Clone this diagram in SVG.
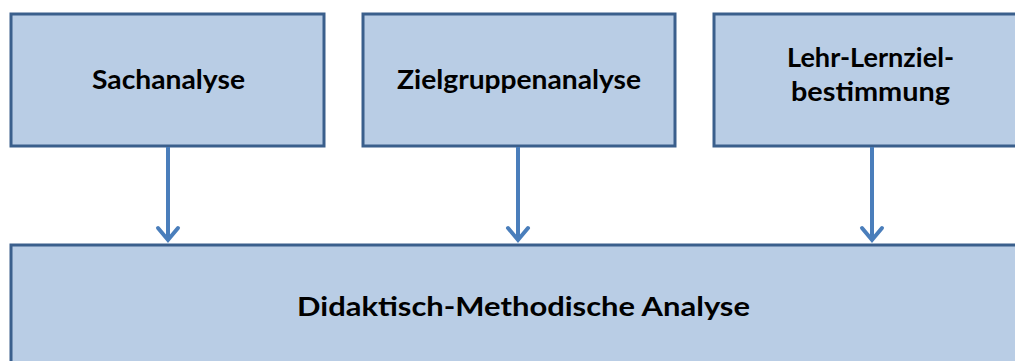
<svg xmlns="http://www.w3.org/2000/svg" width="1015" height="361" viewBox="0 0 1015 361">
<defs>
<style>
.box{fill:#B9CDE5;stroke:#3A5F8C;stroke-width:3}
.lbl{font-family:Lato,"Open Sans","Liberation Sans",sans-serif;font-weight:bold;font-size:27px;fill:#000;text-anchor:middle}
.conn{stroke:#4A7EBB;stroke-width:4;fill:none}
.head{stroke:#4A7EBB;stroke-width:4;fill:none;stroke-linecap:round;stroke-linejoin:miter}
</style>
</defs>
<rect width="1015" height="361" fill="#fff"/>
<g id="sachanalyse">
<rect class="box" x="11" y="14" width="313" height="132"/>
<text class="lbl" x="168.5" y="89" textLength="153" lengthAdjust="spacingAndGlyphs">Sachanalyse</text>
</g>
<g id="zielgruppenanalyse">
<rect class="box" x="363" y="14" width="312" height="132"/>
<text class="lbl" x="519" y="89" textLength="244" lengthAdjust="spacingAndGlyphs">Zielgruppenanalyse</text>
</g>
<g id="lehr-lernziel">
<rect class="box" x="714" y="14" width="313" height="132"/>
<text class="lbl" x="870.5" y="67" textLength="167" lengthAdjust="spacingAndGlyphs">Lehr-Lernziel-</text>
<text class="lbl" x="870.5" y="101" textLength="159" lengthAdjust="spacingAndGlyphs">bestimmung</text>
</g>
<g id="didaktisch">
<rect class="box" x="11" y="245" width="1025" height="130"/>
<text class="lbl" x="523.5" y="316" textLength="453" lengthAdjust="spacingAndGlyphs">Didaktisch-Methodische Analyse</text>
</g>
<g id="connectors">
<line class="conn" x1="168" y1="147" x2="168" y2="240"/>
<polyline class="head" points="158,228 168,240 178,228"/>
<line class="conn" x1="518" y1="147" x2="518" y2="240"/>
<polyline class="head" points="508,228 518,240 528,228"/>
<line class="conn" x1="872" y1="147" x2="872" y2="240"/>
<polyline class="head" points="862,228 872,240 882,228"/>
</g>
</svg>
